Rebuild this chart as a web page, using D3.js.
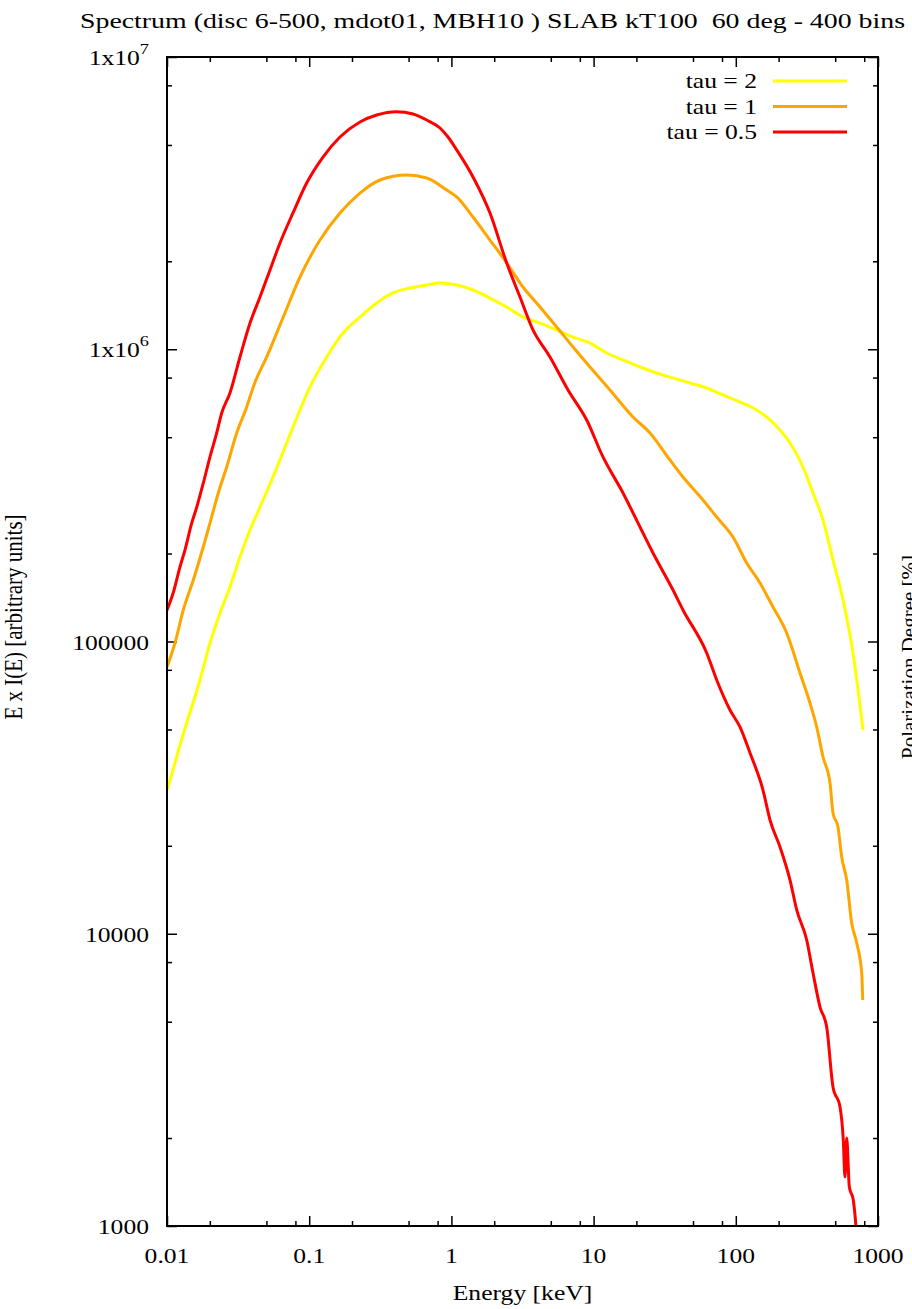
<!DOCTYPE html>
<html>
<head>
<meta charset="utf-8">
<script src="https://cdn.jsdelivr.net/npm/d3@7"></script>
<style>
  body { margin: 0; background: #fff; }
  svg { display: block; }
  text { font-family: "Liberation Serif", "DejaVu Serif", serif; font-size: 21px; fill: #000; }
</style>
</head>
<body>
<div id="chart"></div>
<script>
const title = 'Spectrum (disc 6-500, mdot01, MBH10 ) SLAB kT100  60 deg - 400 bins'
const xLabel = 'Energy [keV]'
const yLabel = 'E x I(E) [arbitrary units]'
const y2Label = 'Polarization Degree [%]'

const xTicks = [0.01, 0.1, 1, 10, 100, 1000]
const xTickLabels = ['0.01', '0.1', '1', '10', '100', '1000']
const yTicks = [1000, 10000, 100000, 1e6, 1e7]
const yTickLabels = [['1000'], ['10000'], ['100000'], ['1x10', '6'], ['1x10', '7']]
const minorSteps = [2, 5, 8]

const seriesNames = ['tau = 2', 'tau = 1', 'tau = 0.5']
const seriesColors = ['#ffff00', '#ffa500', '#ff0000']

// tau = 2
const tau2E = [0.01, 0.01102, 0.01234, 0.0136, 0.01492, 0.01707, 0.02006, 0.02359, 0.02773, 0.0326,
  0.03836, 0.04508, 0.05564, 0.06947, 0.08615, 0.1013, 0.1328, 0.1729, 0.2276, 0.2983,
  0.3884, 0.5117, 0.6703, 0.8316, 1.090, 1.419, 1.868, 2.448, 3.187, 4.200,
  5.502, 7.164, 9.434, 12.36, 16.10, 21.20, 27.78, 36.17, 47.63, 62.44,
  81.28, 107.0, 132.1, 165.0, 204.6, 240.6, 296.9, 349.1, 410.6, 482.6,
  567.5, 667.2, 784.4]
const tau2Flux = [31030, 36330, 44250, 51810, 59700, 73850, 98800, 125200, 153700, 194600,
  240700, 288400, 365600, 477900, 619600, 742900, 941000, 1137000, 1289000, 1440000,
  1558000, 1620000, 1659000, 1685000, 1659000, 1595000, 1497000, 1395000, 1289000, 1229000,
  1164000, 1101000, 1050000, 971000, 918900, 869600, 829300, 797300, 766500, 736900,
  697400, 659900, 629500, 586500, 529200, 477900, 395500, 322300, 260500, 190100,
  138700, 91340, 49800]

// tau = 1
const tau1E = [0.01, 0.01138, 0.01302, 0.01531, 0.01799, 0.02006, 0.02295, 0.02629, 0.03091, 0.03635,
  0.0409, 0.05025, 0.06575, 0.08615, 0.1191, 0.1646, 0.2276, 0.3147, 0.4851, 0.6703,
  0.9268, 1.090, 1.419, 1.868, 2.448, 3.187, 4.200, 5.502, 7.164, 9.434,
  13.04, 18.93, 24.93, 34.45, 42.53, 58.80, 73.39, 95.56, 119.3, 148.0,
  182.6, 228.0, 282.8, 332.4, 370.6, 410.6, 459.6, 482.6, 523.3, 555.6,
  602.6, 653.1, 708.5, 768.1, 780.6]
const tau1Flux = [81800, 98800, 128200, 162300, 210600, 254300, 322300, 395500, 517000, 634400,
  754900, 941000, 1289000, 1767000, 2364000, 2926000, 3424000, 3795000, 3947000, 3855000,
  3507000, 3319000, 2835000, 2364000, 1973000, 1633000, 1395000, 1192000, 1018000, 869600,
  725500, 586500, 517000, 417800, 365600, 305000, 266700, 227800, 185600, 158600,
  131300, 106900, 78030, 61610, 50990, 40250, 32800, 25890, 23190, 18300,
  15270, 10890, 9298, 7340, 5934]

// tau = 0.5
const tau05E = [0.01, 0.01107, 0.01234, 0.01339, 0.01492, 0.01618, 0.01799, 0.02006, 0.02236, 0.02425,
  0.02773, 0.0326, 0.03836, 0.04508, 0.05301, 0.06233, 0.07692, 0.0960, 0.125, 0.1646,
  0.2276, 0.2983, 0.4124, 0.537, 0.6703, 0.8316, 0.9463, 1.090, 1.419, 1.868, 2.448,
  3.036, 3.748, 4.935, 6.607, 8.942, 11.64, 16.10, 21.20, 26.17, 36.17,
  42.53, 62.44, 73.39, 91.04, 107.0, 125.9, 155.3, 174.0, 204.6, 240.6,
  268.2, 315.2, 349.1, 391.0, 435.7, 482.6, 540.5, 570.0, 586.0, 602.6,
  628.6, 670.0, 700.0, 723.0]
const tau05Flux = [128000, 147000, 180000, 206000, 254000, 288000, 348000, 428000, 517000, 605000,
  709000, 941000, 1229000, 1509000, 1867000, 2310000, 2926000, 3706000, 4548000, 5324000,
  5994000, 6333000, 6500000, 6383000, 6086000, 5715000, 5324000, 4807000, 3886000, 2926000, 1973000,
  1509000, 1164000, 941000, 725500, 572700, 428000, 322300, 246500, 200800, 150100,
  128200, 91340, 73850, 58300, 50990, 41540, 31030, 24500, 19820, 15270,
  12060, 9520, 7340, 5615, 4797, 2989, 2554, 1970, 1472, 2000,
  1359, 1227, 993, 765]

const seriesE = [tau2E, tau1E, tau05E]
const seriesFlux = [tau2Flux, tau1Flux, tau05Flux]

const width = 912
const height = 1309
const margin = {left: 167, right: 34, top: 57, bottom: 83}
const stretch = 1.22  // the reference glyphs are wider than they are tall

const svg = d3.select('#chart').append('svg')
  .attr('width', width)
  .attr('height', height)

const x = d3.scaleLog()
  .domain([0.01, 1000])
  .range([margin.left, width - margin.right])

const y = d3.scaleLog()
  .domain([1000, 1e7])
  .range([height - margin.bottom, margin.top])

const minorsOf = (majors) => (
  majors.slice(0, -1).flatMap((m) => minorSteps.map((s) => m * s))
)

const xMinor = minorsOf(xTicks)
const yMinor = minorsOf(yTicks)

const plotW = x.range()[1] - x.range()[0]
const plotH = y.range()[0] - y.range()[1]

const place = (px, py, rot = 0) => (
  `translate(${px},${py}) scale(${stretch},1)` + (rot ? ` rotate(${rot})` : '')
)

// ticks, all pointing inward, mirrored on the opposite side
const drawTicks = (axis, values, size, transform) => {
  const g = svg.append('g')
    .attr('transform', transform)
    .call(axis.tickValues(values).tickSize(size).tickSizeOuter(0).tickFormat(''))
  g.select('.domain').remove()
  g.selectAll('line').attr('stroke', '#000').attr('stroke-width', 1.5)
}

drawTicks(d3.axisBottom(x), xTicks, -10, `translate(0,${y.range()[0]})`)
drawTicks(d3.axisBottom(x), xMinor, -5, `translate(0,${y.range()[0]})`)
drawTicks(d3.axisTop(x), xTicks, -10, `translate(0,${y.range()[1]})`)
drawTicks(d3.axisTop(x), xMinor, -5, `translate(0,${y.range()[1]})`)
drawTicks(d3.axisLeft(y), yTicks, -10, `translate(${x.range()[0]},0)`)
drawTicks(d3.axisLeft(y), yMinor, -5, `translate(${x.range()[0]},0)`)
drawTicks(d3.axisRight(y), yTicks, -10, `translate(${x.range()[1]},0)`)
drawTicks(d3.axisRight(y), yMinor, -5, `translate(${x.range()[1]},0)`)

// tick labels
svg.append('g').selectAll('text')
  .data(xTicks)
  .enter()
    .append('text')
    .attr('transform', (d) => place(x(d), y.range()[0] + 37))
    .attr('text-anchor', 'middle')
    .text((d, i) => xTickLabels[i])

const yLabels = svg.append('g').selectAll('text')
  .data(yTicks)
  .enter()
    .append('text')
    .attr('transform', (d) => place(x.range()[0] - 18, y(d) + 8))
    .attr('text-anchor', 'end')

yLabels.append('tspan').text((d, i) => yTickLabels[i][0])
yLabels.filter((d, i) => yTickLabels[i].length > 1)
  .append('tspan')
  .attr('dy', -11)
  .attr('font-size', 15)
  .text((d) => yTickLabels[yTicks.indexOf(d)][1])

// curves
svg.append('clipPath').attr('id', 'plot-clip')
  .append('rect')
  .attr('x', x.range()[0])
  .attr('y', y.range()[1])
  .attr('width', plotW)
  .attr('height', plotH)

const line = d3.line()
  .x((d) => x(d[0]))
  .y((d) => y(d[1]))
  .curve(d3.curveMonotoneX)

svg.append('g')
  .attr('clip-path', 'url(#plot-clip)')
  .selectAll('path')
  .data(seriesNames.map((n, i) => seriesE[i].map((e, j) => [e, seriesFlux[i][j]])))
  .enter()
    .append('path')
    .attr('d', line)
    .attr('fill', 'none')
    .attr('stroke', (d, i) => seriesColors[i])
    .attr('stroke-width', 3)
    .attr('stroke-linejoin', 'round')

// frame
svg.append('rect')
  .attr('x', x.range()[0])
  .attr('y', y.range()[1])
  .attr('width', plotW)
  .attr('height', plotH)
  .attr('fill', 'none')
  .attr('stroke', '#000')
  .attr('stroke-width', 2)

// legend
const legend = svg.append('g').selectAll('g')
  .data(seriesNames)
  .enter()
    .append('g')
    .attr('transform', (d, i) => `translate(0,${81 + i * 25.5})`)

legend.append('text')
  .attr('transform', place(757, 7))
  .attr('text-anchor', 'end')
  .text((d) => d)

legend.append('line')
  .attr('x1', 773)
  .attr('x2', 847)
  .attr('stroke', (d, i) => seriesColors[i])
  .attr('stroke-width', 3)

// titles
svg.append('text')
  .attr('x', 80)
  .attr('y', 28)
  .attr('textLength', 825)
  .attr('lengthAdjust', 'spacingAndGlyphs')
  .style('white-space', 'pre')
  .text(title)

svg.append('text')
  .attr('transform', place((x.range()[0] + x.range()[1]) / 2, height - 9))
  .attr('text-anchor', 'middle')
  .text(xLabel)

svg.append('text')
  .attr('transform', place(22, 617, -90))
  .attr('text-anchor', 'middle')
  .text(yLabel)

// y2 label of the neighbouring panel, only its edge shows
svg.append('text')
  .attr('transform', 'translate(916,657) rotate(-90)')
  .attr('text-anchor', 'middle')
  .attr('font-size', 30)
  .text(y2Label)
</script>
</body>
</html>
